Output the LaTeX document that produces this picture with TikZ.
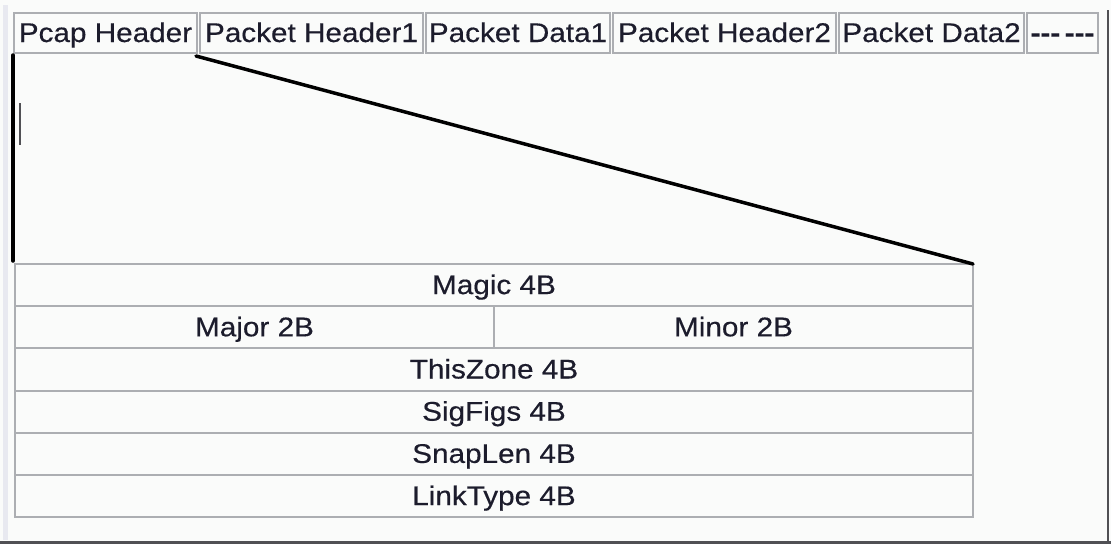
\documentclass[tikz,border=0pt]{standalone}
\usepackage{fontspec}
\usepackage{tikz}
\usetikzlibrary{positioning}
\newfontfamily\dialogfont[FakeStretch=1.1,FakeBold=0.4]{Liberation Sans}
\definecolor{paper}{RGB}{250,251,250}
\definecolor{cellgray}{RGB}{172,174,178}
\definecolor{celltext}{RGB}{28,28,44}
\definecolor{framegray}{RGB}{80,80,84}
\definecolor{stripgray}{RGB}{232,233,240}
\begin{document}
\begin{tikzpicture}[x=1pt,y=-1pt,
				top_cell/.style ={rectangle, draw=cellgray, line width=2pt,
					minimum height=40pt, inner sep=0pt, outer sep=0pt,
					text height=21pt, text depth=3pt,
					text=celltext, font=\dialogfont\fontsize{27}{30}\selectfont},
				field/.style ={top_cell, minimum height=42.2pt, minimum width=958pt},
				field_half/.style ={field, minimum width=479pt},
				line/.style ={draw=black, line width=3.5pt, line cap=round}]
				% background and window frame
				\useasboundingbox (0,0) rectangle (1111,544);
				\fill[paper] (0,0) rectangle (1111,544);
				\fill[stripgray] (3,5) rectangle (8,540);
				\draw[framegray, line width=2pt] (1108,10) -- (1108,544);
				\draw[framegray, line width=3pt] (0,542.5) -- (1111,542.5);
				% file layout - top row
				\node [top_cell, minimum width=183pt, anchor=north west] (pcap) at (14,13) {Pcap Header};
				\node [top_cell, minimum width=223pt, right=3pt of pcap] (pktHeaderA) {Packet Header1};
				\node [top_cell, minimum width=184pt, right=3pt of pktHeaderA] (pktDataA) {Packet Data1};
				\node [top_cell, minimum width=223pt, right=3pt of pktDataA] (pktHeaderB) {Packet Header2};
				\node [top_cell, minimum width=185pt, right=3pt of pktHeaderB] (pktDataB) {Packet Data2};
				\node [top_cell, minimum width=71pt, right=3pt of pktDataB] (more) {\bfseries{-}{-}{-}\,{-}{-}{-}};
				% pcap header fields
				\node [field, anchor=north west] (magic) at (15,264) {Magic 4B};
				\node [field_half, below=0pt of magic.south west, anchor=north west] (major) {Major 2B};
				\node [field_half, right=0pt of major] (minor) {Minor 2B};
				\node [field, below=0pt of major.south west, anchor=north west] (thiszone) {ThisZone 4B};
				\node [field, below=0pt of thiszone] (sigfigs) {SigFigs 4B};
				\node [field, below=0pt of sigfigs] (snaplen) {SnapLen 4B};
				\node [field, below=0pt of snaplen] (linktype) {LinkType 4B};
				% text cursor mark
				\draw[framegray, line width=2pt] (20,103) -- (20,145);
				% connecting header to its fields
				\begin{scope}[every path/.style=line]
					\path ([xshift=-1pt,yshift=-2pt]pcap.south west) -- ([xshift=-2pt,yshift=3pt]magic.north west);
					\path ([xshift=-1pt,yshift=-3pt]pcap.south east) -- (magic.north east);
				\end{scope}
			\end{tikzpicture}
\end{document}
